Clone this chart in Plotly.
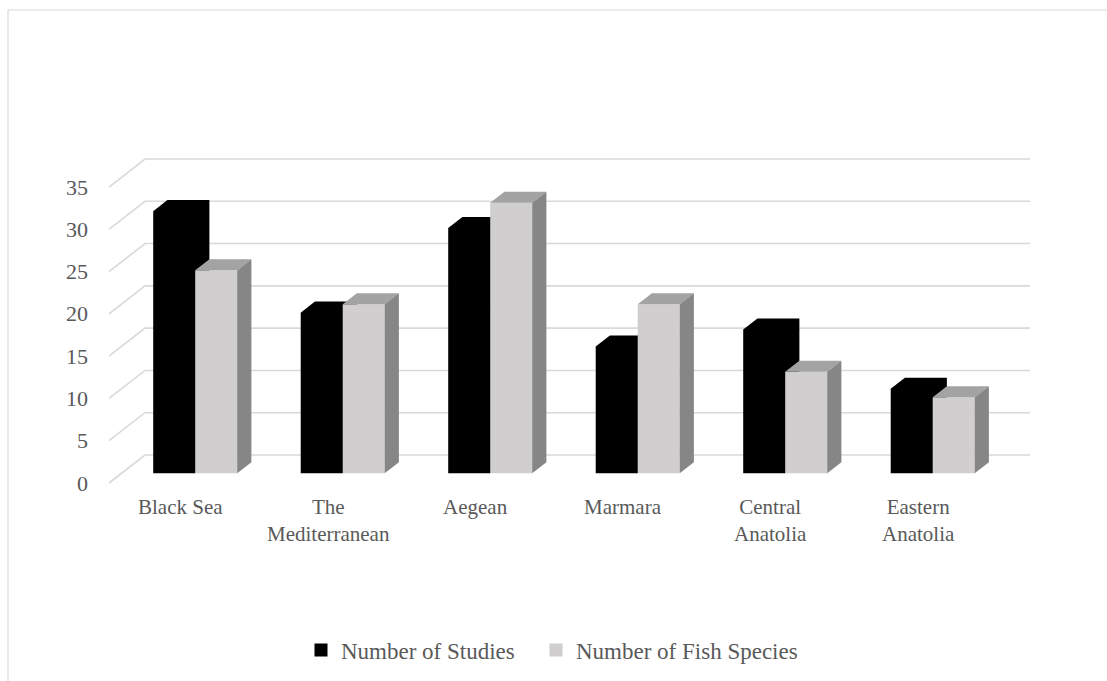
import plotly.graph_objects as go

# Regions and counts
regions = ["Black Sea", "The<br>Mediterranean", "Aegean", "Marmara",
           "Central<br>Anatolia", "Eastern<br>Anatolia"]
studies = [31, 19, 29, 15, 17, 10]
species = [24, 20, 32, 20, 12, 9]
series_names = ["Number of Studies", "Number of Fish Species"]
y_ticks = [0, 5, 10, 15, 20, 25, 30, 35]

# Oblique projection of the depth axis (in axis units per unit of depth)
DEPTH_X = 0.2441   # category units
DEPTH_Y = 3.311    # value units
BAR_W = 0.2847     # width of one bar, in category units
GAP = (1 - 2 * BAR_W) / 2
T_FRONT, T_BACK = 0.346, 0.74   # depth slab occupied by the bars

GRID = "#D9D9D9"
TEXT = "#595959"
FONT = "Liberation Serif, Times New Roman, serif"

fig = go.Figure()

# Back-wall gridlines with their oblique run-in from the front edge
gx, gy = [], []
for v in y_ticks:
    gx += [0, DEPTH_X, len(regions) + DEPTH_X, None]
    gy += [v, v + DEPTH_Y, v + DEPTH_Y, None]
fig.add_trace(go.Scatter(x=gx, y=gy, mode="lines", line=dict(color=GRID, width=1.6),
                         hoverinfo="skip", showlegend=False))


def box_faces(i, s, v):
    """Front, top and side polygons of one 3-D column."""
    x0 = i + GAP + s * BAR_W + DEPTH_X * T_FRONT
    b = DEPTH_Y * T_FRONT
    ddx = DEPTH_X * (T_BACK - T_FRONT)
    ddy = DEPTH_Y * (T_BACK - T_FRONT)
    x1 = x0 + BAR_W
    front = ([x0, x1, x1, x0, x0], [b, b, b + v, b + v, b])
    top = ([x0, x1, x1 + ddx, x0 + ddx, x0],
           [b + v, b + v, b + v + ddy, b + v + ddy, b + v])
    side = ([x1, x1 + ddx, x1 + ddx, x1, x1],
            [b, b + ddy, b + v + ddy, b + v, b])
    return front, top, side


def add_faces(polys, color):
    xs, ys = [], []
    for px, py in polys:
        xs += px + [None]
        ys += py + [None]
    fig.add_trace(go.Scatter(x=xs, y=ys, mode="lines", fill="toself",
                             fillcolor=color, line=dict(width=0, color=color),
                             hoverinfo="skip", showlegend=False))


black_polys, g_front, g_top, g_side = [], [], [], []
for i in range(len(regions)):
    f, t, s = box_faces(i, 0, studies[i])
    black_polys += [f, t, s]
    f, t, s = box_faces(i, 1, species[i])
    g_front.append(f)
    g_top.append(t)
    g_side.append(s)

add_faces(black_polys, "#000000")
add_faces(g_front, "#D0CECE")
add_faces(g_top, "#A3A3A3")
add_faces(g_side, "#868686")

# Legend entries, one legend box per series
for name, color, lg in zip(series_names, ["#000000", "#D0CECE"], ["legend", "legend2"]):
    fig.add_trace(go.Scatter(x=[None], y=[None], mode="markers", name=name, legend=lg,
                             marker=dict(symbol="square", size=13, color=color)))

# Value labels on the front edge
for v in y_ticks:
    fig.add_annotation(x=0, y=v, text=str(v), showarrow=False, xanchor="right",
                       yanchor="middle", xshift=-19,
                       font=dict(family=FONT, size=22, color=TEXT))

# Category labels under the floor
for i, name in enumerate(regions):
    fig.add_annotation(x=i + 0.5, y=0, text=name, showarrow=False, xanchor="center",
                       yanchor="top", yshift=-10, xshift=-2,
                       font=dict(family=FONT, size=21, color=TEXT))

# Chart-area border
fig.add_shape(type="rect", xref="paper", yref="paper", x0=8 / 1107, x1=1.02,
              y0=-0.02, y1=1 - 10 / 681, line=dict(color=GRID, width=1.2))

W, H = 1107, 681
PX_X, ORG_X = 147.5, 109      # pixels per category, x pixel of the front-left corner
PX_Y, ORG_Y = 8.457, 483      # pixels per value unit, y pixel of the front floor
legend_style = dict(orientation="h", xanchor="left", y=1 - 650 / 681, yanchor="middle",
                    font=dict(family=FONT, size=23, color=TEXT),
                    bgcolor="rgba(0,0,0,0)", itemwidth=30)
fig.update_layout(
    width=W, height=H, margin=dict(l=0, r=0, t=0, b=0),
    paper_bgcolor="white", plot_bgcolor="white",
    xaxis=dict(range=[-ORG_X / PX_X, (W - ORG_X) / PX_X], visible=False, fixedrange=True),
    yaxis=dict(range=[(ORG_Y - H) / PX_Y, ORG_Y / PX_Y], visible=False, fixedrange=True),
    legend=dict(x=301 / W, **legend_style),
    legend2=dict(x=536 / W, **legend_style),
    showlegend=True,
)

fig.write_html("out.html")
